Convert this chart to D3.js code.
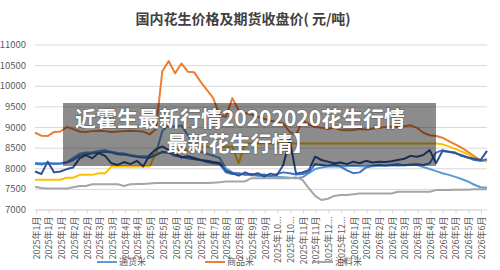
<!DOCTYPE html>
<html>
<head>
<meta charset="utf-8">
<script src="https://cdn.jsdelivr.net/npm/d3@7"></script>
<style>
  body { margin: 0; background: #fff; }
  svg { display: block; font-family: 'Noto Sans CJK SC', 'Noto Sans', sans-serif; }
</style>
</head>
<body>
<svg id="chart" width="500" height="270"></svg>
<script>
// ── Données ───────────────────────────────────────────────
const xLabels = [
  '2025年1月', '2025年1月', '2025年1月', '2025年2月', '2025年2月', '2025年3月', '2025年3月',
  '2025年4月', '2025年4月', '2025年5月', '2025年5月', '2025年6月', '2025年6月', '2025年7月',
  '2025年7月', '2025年8月', '2025年8月', '2025年9月', '2025年9月', '2025年10...', '2025年10...',
  '2025年11月', '2025年11月', '2025年12...', '2025年12...', '2026年1月', '2026年1月', '2026年2月',
  '2026年2月', '2026年3月', '2026年3月', '2026年4月', '2026年4月', '2026年5月', '2026年5月', '2026年6月'
];
const yTicks = [7000, 7500, 8000, 8500, 9000, 9500, 10000, 10500, 11000];

// 通货米 (bleu clair)
const tonghuo = [8130,8120,8130,8120,8120,8150,8250,8350,8380,8390,
  8420,8440,8400,8370,8360,8320,8300,8290,8290,8360,
  8900,9050,9000,9040,8800,8600,8400,8350,8300,8250,
  8000,7900,7870,7850,7830,7820,7800,7800,7790,7780,
  7770,7760,7780,7880,7980,8020,8040,8050,8040,8050,
  8060,8050,8040,8050,8060,8060,8070,8060,8070,8080,
  8080,8030,7980,7930,7880,7840,7790,7740,7680,7600,
  7540,7530];
// 商品米 (orange)
const shangpin = [8860,8790,8780,8880,8890,9000,8950,8890,8880,8900,
  8910,8900,8880,8890,8900,8910,8900,8890,8820,8950,
  10350,10600,10300,10540,10340,10330,10100,9900,9700,9280,
  9250,9700,9400,9340,9300,9250,9200,9150,9120,9080,
  8880,8800,9170,9060,9000,8980,8960,8980,8930,8920,
  8930,8950,8940,8960,8980,9000,9010,9000,9020,9040,
  8980,8860,8800,8780,8740,8660,8580,8500,8400,8290,
  8190,8170];
// 油料米 (gris)
const youliao = [7550,7520,7510,7510,7510,7510,7540,7570,7570,7610,
  7610,7610,7610,7610,7570,7610,7620,7620,7630,7640,
  7640,7640,7640,7640,7640,7640,7640,7640,7650,7660,
  7680,7680,7680,7680,7760,7760,7760,7760,7760,7760,
  7760,7780,7720,7520,7330,7230,7260,7330,7350,7350,
  7370,7390,7390,7390,7390,7390,7390,7430,7430,7430,
  7430,7430,7430,7470,7470,7470,7480,7480,7480,7490,
  7490,7490];
// série or
const jinse = [7720,7720,7720,7720,7720,7770,7770,7840,7840,7840,
  7880,7880,8040,8040,8040,8040,8040,8040,8040,8370,
  8370,8370,8440,8440,8440,8520,8520,8520,8520,8520,
  8520,8520,8120,8600,8600,8600,8600,8600,8600,8600,
  8600,8600,8600,8600,8600,8600,8600,8600,8600,8600,
  8600,8600,8600,8600,8600,8600,8600,8600,8600,8600,
  8600,8600,8600,8600,8580,8530,8470,8410,8340,8240,
  8180,8170];
// bleu moyen
const lan2 = [8110,8090,8120,8100,8110,8140,8200,8300,8340,8360,
  8380,8400,8380,8340,8330,8300,8280,8260,8250,8320,
  8400,8380,8300,8280,8240,8220,8200,8150,8120,8100,
  7900,7860,7880,7840,7860,7830,7850,7810,7860,7900,
  7880,7850,7860,7900,8100,8080,8060,8090,8040,7950,
  7880,7900,8020,8060,8080,8060,8080,8100,8070,8090,
  8100,8080,8120,8380,8440,8400,8360,8320,8260,8200,
  8180,8220];
// bleu foncé
const lan3 = [7920,7860,8160,7900,7920,7980,8020,8240,8320,8240,
  8370,8300,8120,8080,8150,8100,8180,8040,8320,8460,
  8530,8440,8360,8260,8290,8250,8200,8180,8150,8130,
  7940,7880,7820,7900,7840,7880,7800,7870,7830,8080,
  8700,7870,7900,7950,8280,8200,8160,8120,8140,8100,
  8160,8120,8180,8140,8160,8150,8170,8200,8230,8300,
  8280,8320,8440,8120,8420,8400,8380,8300,8260,8230,
  8200,8420];

const series = [
  { name: '通货米', values: tonghuo,  color: '#5B9BD5', legend: true },
  { name: '商品米', values: shangpin, color: '#ED7D31', legend: true },
  { name: '油料米', values: youliao,  color: '#A5A5A5', legend: true },
  { name: '', values: jinse, color: '#FFC000' },
  { name: '', values: lan2,  color: '#4472C4' },
  { name: '', values: lan3,  color: '#2F5496' }
];

// ── Chart ─────────────────────────────────────────────────
const svg = d3.select('#chart');
const L = 35, R = 487, T = 44.5, B = 209.5;
const N = tonghuo.length;

const x = d3.scaleLinear().domain([0, N - 1]).range([L, R]);
const xl = d3.scalePoint().domain(d3.range(xLabels.length)).range([36, 481]);
const y = d3.scaleLinear().domain([7000, 11000]).range([B, T]);

// titre
svg.append('text')
  .attr('x', 243).attr('y', 24)
  .attr('text-anchor', 'middle')
  .attr('font-size', '14px').attr('font-weight', 700)
  .attr('fill', '#404040')
  .text('国内花生价格及期货收盘价( 元/吨)');

// grille
svg.append('g')
  .call(d3.axisLeft(y).tickValues(yTicks).tickSize(-(R - L)).tickFormat(d => d))
  .attr('transform', `translate(${L},0)`)
  .call(g => g.select('.domain').remove())
  .call(g => g.selectAll('.tick line').attr('stroke', '#d9d9d9'))
  .call(g => g.selectAll('.tick text')
    .attr('x', -9).attr('fill', '#595959')
    .attr('font-size', '9.5px').attr('font-family', 'Noto Sans CJK SC, sans-serif'));

// axe X
svg.append('g')
  .attr('transform', `translate(0,${B})`)
  .call(d3.axisBottom(xl).tickSize(4).tickFormat(i => xLabels[i]))
  .call(g => g.select('.domain').attr('stroke', '#d9d9d9'))
  .call(g => g.selectAll('.tick line').attr('stroke', '#d9d9d9'))
  .call(g => g.selectAll('.tick text')
    .attr('transform', 'rotate(-90)')
    .attr('text-anchor', 'end')
    .attr('x', -7).attr('y', 0).attr('dy', '0.35em')
    .attr('fill', '#595959')
    .attr('font-size', '9px').attr('font-family', 'Noto Sans CJK SC, sans-serif'));

// courbes
const line = d3.line().x((d, i) => x(i)).y(d => y(d));
svg.append('g').selectAll('path').data(series).enter().append('path')
  .attr('d', d => line(d.values))
  .attr('fill', 'none')
  .attr('stroke', d => d.color)
  .attr('stroke-width', 2)
  .attr('stroke-linejoin', 'round');

// légende
const leg = svg.append('g').selectAll('g').data(series.filter(s => s.legend)).enter().append('g')
  .attr('transform', (d, i) => `translate(${97 + i * 108},262)`);
leg.append('line').attr('x1', 0).attr('x2', 20)
  .attr('stroke', d => d.color).attr('stroke-width', 2);
leg.append('text').attr('x', 22).attr('dy', '0.35em')
  .attr('font-size', '9px').attr('fill', '#595959')
  .text(d => d.name);

// bandeau gris
svg.append('rect')
  .attr('x', 63).attr('y', 103).attr('width', 373).attr('height', 63)
  .attr('fill', 'rgba(0,0,0,0.45)');
const banner = ['近霍生最新行情20202020花生行情', '最新花生行情】'];
svg.append('g').selectAll('text').data(banner).enter().append('text')
  .attr('x', 240).attr('y', (d, i) => 126 + i * 25)
  .attr('text-anchor', 'middle')
  .attr('font-size', '21px').attr('font-weight', 700)
  .attr('fill', '#fff')
  .style('paint-order', 'stroke')
  .attr('stroke', 'rgba(0,0,0,0.25)').attr('stroke-width', 1.5)
  .text(d => d);
</script>
</body>
</html>
